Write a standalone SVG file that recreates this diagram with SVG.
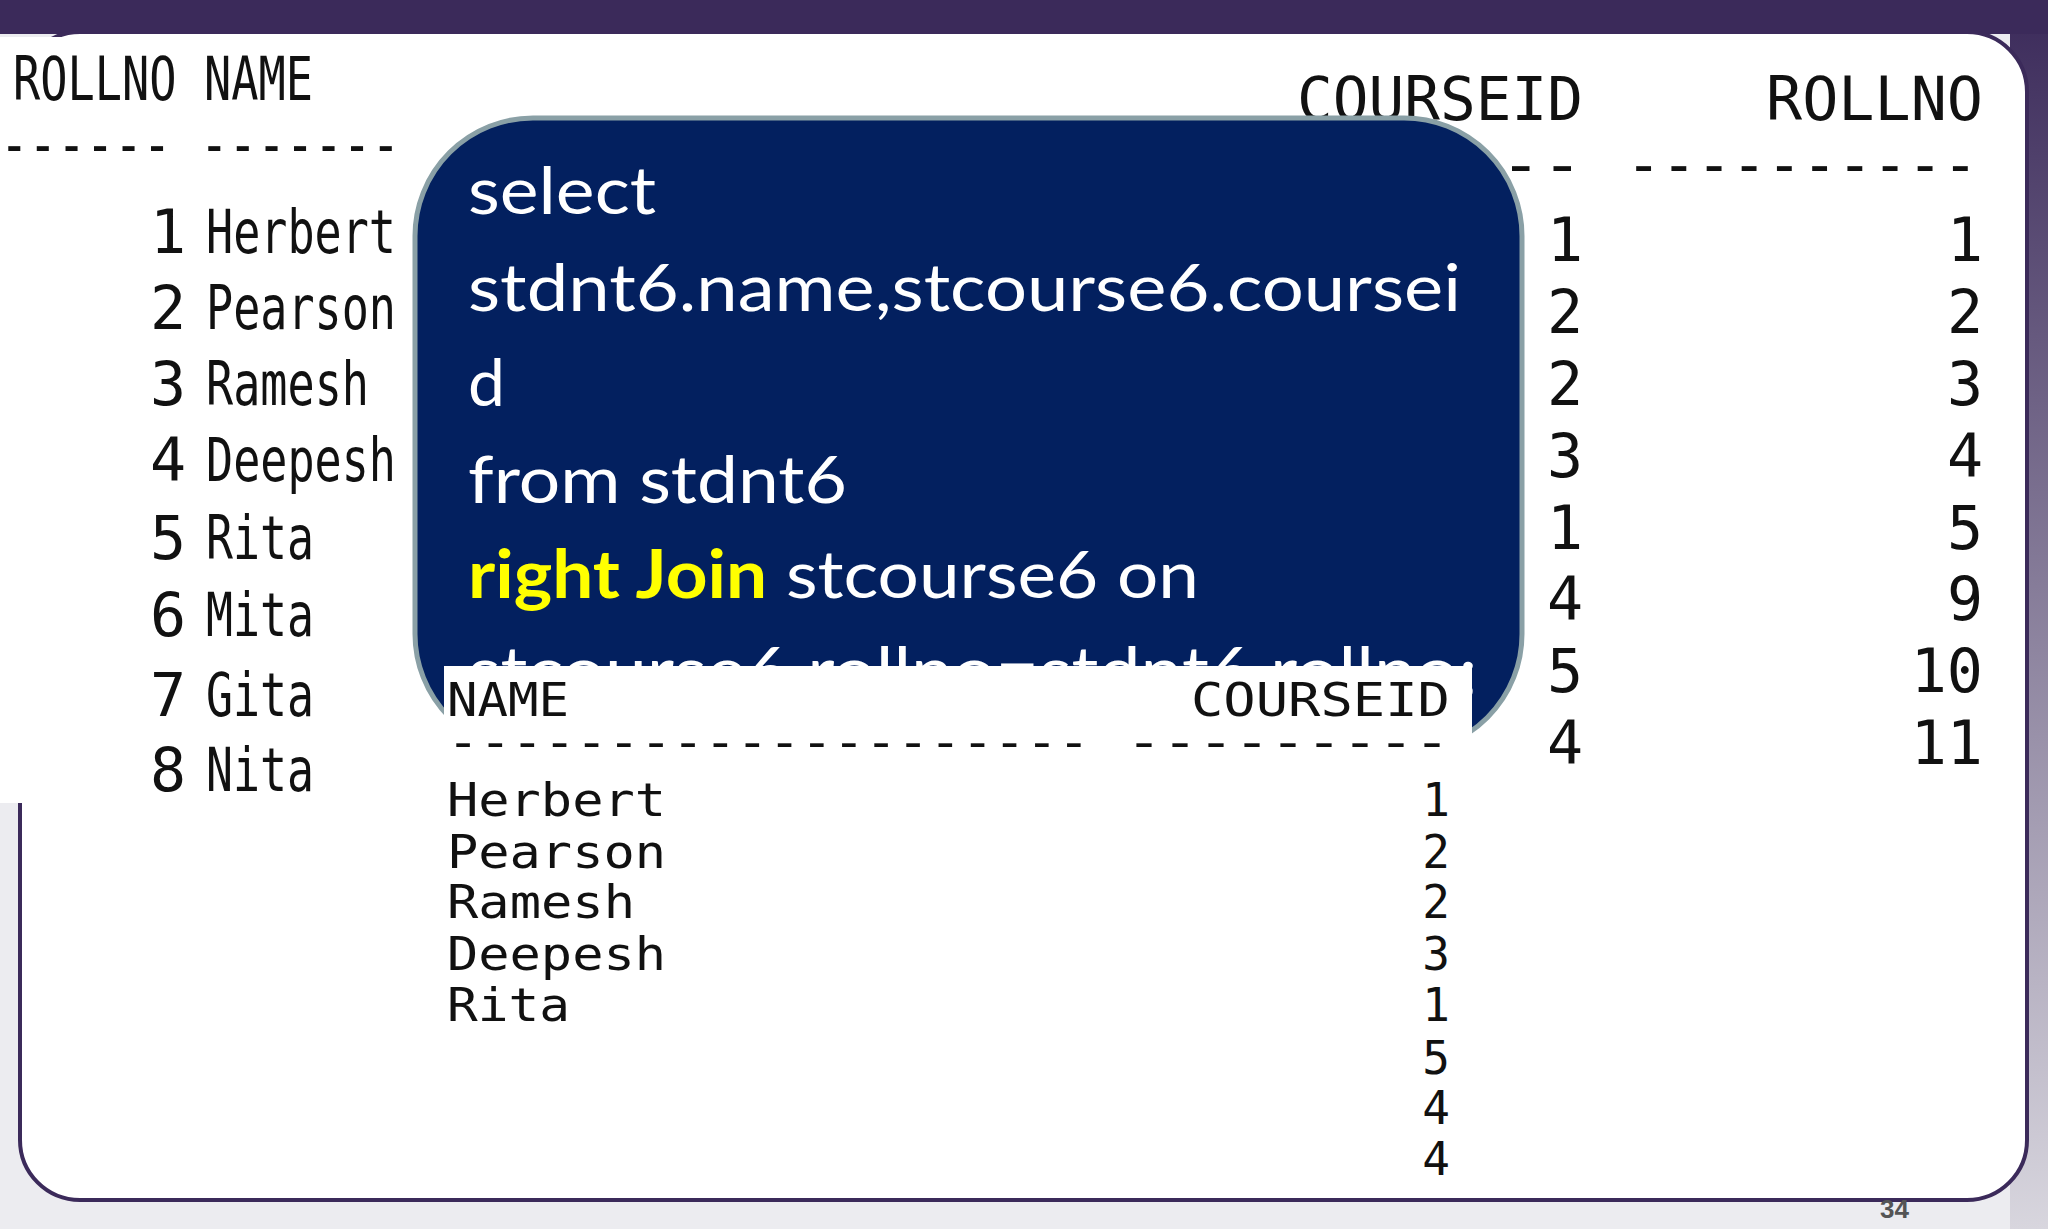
<svg xmlns="http://www.w3.org/2000/svg" width="2048" height="1229" viewBox="0 0 2048 1229">
<defs>
<linearGradient id="rs" x1="0" y1="0" x2="0" y2="1"><stop offset="0" stop-color="#3b2a5a"/><stop offset="1" stop-color="#d8d6de"/></linearGradient>
<clipPath id="boxclip"><rect x="415" y="118" width="1107" height="634" rx="118"/></clipPath>
</defs>
<style>
.m{font-family:"DejaVu Sans Mono","Liberation Mono",monospace;fill:#111;font-size:60px}
.r{font-family:"DejaVu Sans Mono","Liberation Mono",monospace;fill:#111;font-size:46px}
.q{font-family:Lato,"Open Sans",sans-serif;fill:#fff;font-size:66px}
</style>
<rect width="2048" height="1229" fill="#ececf0"/>
<rect x="2010" y="0" width="38" height="1229" fill="url(#rs)"/>
<rect x="0" y="0" width="2048" height="34" fill="#3b2a5a"/>
<rect x="20" y="32" width="2007" height="1168" rx="60" fill="#fff" stroke="#3b2a5a" stroke-width="4"/>
<g id="left-table">
<rect x="0" y="37" width="418" height="766" fill="#fff"/>
<text class="m" x="13" y="100" textLength="300" lengthAdjust="spacingAndGlyphs">ROLLNO NAME</text>
<text class="m" x="0" y="165" textLength="400" lengthAdjust="spacingAndGlyphs">------ -------</text>
<g class="m">
<text x="150" y="253">1</text><text x="206" y="253" textLength="190" lengthAdjust="spacingAndGlyphs">Herbert</text>
<text x="150" y="329">2</text><text x="206" y="329" textLength="190" lengthAdjust="spacingAndGlyphs">Pearson</text>
<text x="150" y="405">3</text><text x="206" y="405" textLength="163" lengthAdjust="spacingAndGlyphs">Ramesh</text>
<text x="150" y="481">4</text><text x="206" y="481" textLength="190" lengthAdjust="spacingAndGlyphs">Deepesh</text>
<text x="150" y="559">5</text><text x="206" y="559" textLength="108" lengthAdjust="spacingAndGlyphs">Rita</text>
<text x="150" y="636">6</text><text x="206" y="636" textLength="108" lengthAdjust="spacingAndGlyphs">Mita</text>
<text x="150" y="716">7</text><text x="206" y="716" textLength="108" lengthAdjust="spacingAndGlyphs">Gita</text>
<text x="150" y="791">8</text><text x="206" y="791" textLength="108" lengthAdjust="spacingAndGlyphs">Nita</text>
</g>
</g>
<g id="right-table">
<text class="m" x="1297" y="120" textLength="286" lengthAdjust="spacingAndGlyphs">COURSEID</text>
<text class="m" x="1766" y="120" textLength="217" lengthAdjust="spacingAndGlyphs">ROLLNO</text>
<text class="m" x="1500" y="185" textLength="83" lengthAdjust="spacingAndGlyphs">--</text>
<text class="m" x="1626" y="185" textLength="352" lengthAdjust="spacingAndGlyphs">----------</text>
<g class="m" text-anchor="end">
<text x="1583" y="261">1</text><text x="1583" y="333">2</text><text x="1583" y="405">2</text><text x="1583" y="477">3</text>
<text x="1583" y="549">1</text><text x="1583" y="620">4</text><text x="1583" y="692">5</text><text x="1583" y="764">4</text>
<text x="1983" y="261">1</text><text x="1983" y="333">2</text><text x="1983" y="405">3</text><text x="1983" y="477">4</text>
<text x="1983" y="549">5</text><text x="1983" y="620">9</text><text x="1983" y="692">10</text><text x="1983" y="764">11</text>
</g>
</g>
<g id="query-box">
<rect x="415" y="118" width="1107" height="634" rx="118" fill="#03205f" stroke="#8aa0a6" stroke-width="5"/>
<g clip-path="url(#boxclip)" class="q">
<text x="468" y="214" textLength="188" lengthAdjust="spacingAndGlyphs">select</text>
<text x="468" y="311" textLength="993" lengthAdjust="spacingAndGlyphs">stdnt6.name,stcourse6.coursei</text>
<text x="468" y="406">d</text>
<text x="468" y="503" textLength="379" lengthAdjust="spacingAndGlyphs">from stdnt6</text>
<text x="468" y="598" textLength="731" lengthAdjust="spacingAndGlyphs"><tspan font-weight="bold" fill="#ffff00">right Join</tspan> stcourse6 on</text>
<text x="468" y="694" textLength="1010" lengthAdjust="spacingAndGlyphs">stcourse6.rollno=stdnt6.rollno;</text>
</g>
</g>
<g id="result-table">
<rect x="444" y="666" width="1028" height="520" fill="#fff"/>
<text class="r" x="447" y="716" textLength="122" lengthAdjust="spacingAndGlyphs">NAME</text>
<text class="r" x="1191" y="716" textLength="259" lengthAdjust="spacingAndGlyphs">COURSEID</text>
<text class="r" x="447" y="758" textLength="643" lengthAdjust="spacingAndGlyphs">--------------------</text>
<text class="r" x="1126" y="758" textLength="324" lengthAdjust="spacingAndGlyphs">---------</text>
<g class="r">
<text x="447" y="816" textLength="219" lengthAdjust="spacingAndGlyphs">Herbert</text>
<text x="447" y="868" textLength="219" lengthAdjust="spacingAndGlyphs">Pearson</text>
<text x="447" y="918" textLength="188" lengthAdjust="spacingAndGlyphs">Ramesh</text>
<text x="447" y="970" textLength="219" lengthAdjust="spacingAndGlyphs">Deepesh</text>
<text x="447" y="1021" textLength="123" lengthAdjust="spacingAndGlyphs">Rita</text>
</g>
<g class="r" text-anchor="end">
<text x="1450" y="816">1</text><text x="1450" y="868">2</text><text x="1450" y="918">2</text><text x="1450" y="970">3</text>
<text x="1450" y="1021">1</text><text x="1450" y="1074">5</text><text x="1450" y="1124">4</text><text x="1450" y="1175">4</text>
</g>
</g>
<text x="1880" y="1218" font-family="Liberation Sans,sans-serif" font-size="26" font-weight="bold" fill="#555">34</text>
</svg>
